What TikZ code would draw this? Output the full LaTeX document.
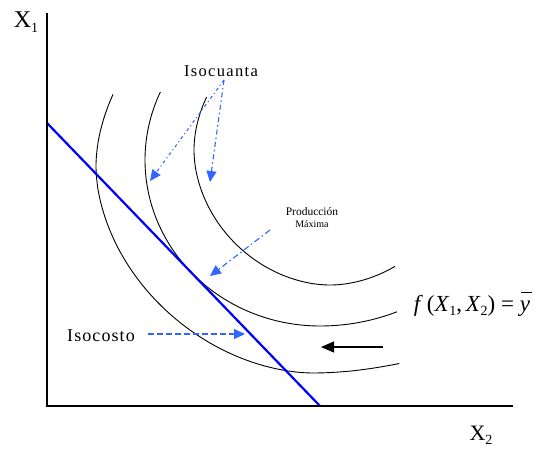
\documentclass[tikz,border=0pt]{standalone}
\usepackage{fontspec}
\setmainfont{Liberation Serif}
\usetikzlibrary{arrows.meta}
\definecolor{arrowblue}{RGB}{51,102,255}
\definecolor{costblue}{RGB}{0,0,255}
\newcommand{\lsub}[1]{\raisebox{-0.4ex}{\fontsize{14}{14}\selectfont #1}}
\newcommand{\ybar}{{\itshape\makebox[0pt][l]{\hspace{0.06em}\raisebox{0.78em}{\rule{0.48em}{0.05em}}}y}}
\begin{document}
\begin{tikzpicture}[x=1pt,y=-1pt,
  declare function={
    sx(\t,\cx,\al,\ar,\n)=\cx + ((cos(\t)<0)*\al + (cos(\t)>=0)*\ar)*sign(cos(\t))*pow(abs(cos(\t))+0.00001,2/\n);
    sy(\t,\cy,\b,\n)=\cy + \b*sign(sin(\t))*pow(abs(sin(\t))+0.00001,2/\n);
  },
  axis/.style={line width=2.5pt, black, line join=miter},
  isoq/.style={line width=0.9pt, black},
  costline/.style={line width=2.2pt, costblue},
  note/.style={arrowblue, line width=1.1pt, -{Triangle[length=11pt,width=10pt]}},
  blackarrow/.style={black, line width=1.1pt, -{Triangle[length=13pt,width=11pt]}},
  lbl/.style={inner sep=0pt, outer sep=0pt}]
\useasboundingbox (0,0) rectangle (539,448);

% isoquants
\draw[isoq] plot[domain=73.2:202, samples=120, smooth] ({sx(\x,313,217,330,1.85)}, {sy(\x,166,207,1.85)});
\draw[isoq] plot[domain=66.1:204.2, samples=120, smooth] ({sx(\x,320,175,190,2)}, {sy(\x,160,166,2)});
\draw[isoq] plot[domain=60.3:204.3, samples=120, smooth] ({sx(\x,330,136,136,1.9)}, {sy(\x,150,135,1.9)});

% isocost line
\coordinate (c1) at (47,123);
\coordinate (c2) at (320,406);
\draw[costline] (c1) -- (c2);

% axes
\coordinate (ytop) at (47,13);
\coordinate (O) at (47,406);
\coordinate (xend) at (513,406);
\draw[axis] (ytop) -- (O) -- (xend);

% labels
\node[lbl] (x1) at (26,22) {\fontsize{24}{24}\selectfont X\lsub{1}};
\node[lbl] (x2) at (481,435) {\fontsize{22}{22}\selectfont X\lsub{2}};
\node[lbl] (isoqlbl) at (221,71) {\fontsize{16.5}{16.5}\selectfont\addfontfeature{LetterSpace=8}Isocuanta};
\node[lbl, align=center] (prodlbl) at (312,218) {\fontsize{11.5}{15}\selectfont Producción\\Máxima};
\node[lbl] (costlbl) at (101,336) {\fontsize{18}{18}\selectfont\addfontfeature{LetterSpace=6}Isocosto};
\node[lbl] (flbl) at (472,304) {\fontsize{23}{23}\selectfont \textit{f}\,(\textit{X}\lsub{1},\,\textit{X}\lsub{2}) = \ybar};

% annotation arrows
\coordinate (isoqS) at (224,80);
\coordinate (isoqA) at (150,181);
\coordinate (isoqB) at (210,182);
\draw[note, dash pattern=on 3pt off 3pt on 1pt off 3pt] (isoqS) -- (isoqA);
\draw[note, dash pattern=on 5pt off 3pt on 1.5pt off 3pt] (isoqS) -- (isoqB);

\coordinate (prodS) at (270,230);
\coordinate (prodA) at (210,276);
\draw[note, dash pattern=on 6pt off 3pt on 1.5pt off 3pt] (prodS) -- (prodA);

\coordinate (costS) at (148,334);
\coordinate (costA) at (245,334);
\draw[note, dash pattern=on 6pt off 3pt] (costS) -- (costA);

\coordinate (shiftS) at (383,347);
\coordinate (shiftA) at (321,347);
\draw[blackarrow] (shiftS) -- (shiftA);
\end{tikzpicture}
\end{document}
